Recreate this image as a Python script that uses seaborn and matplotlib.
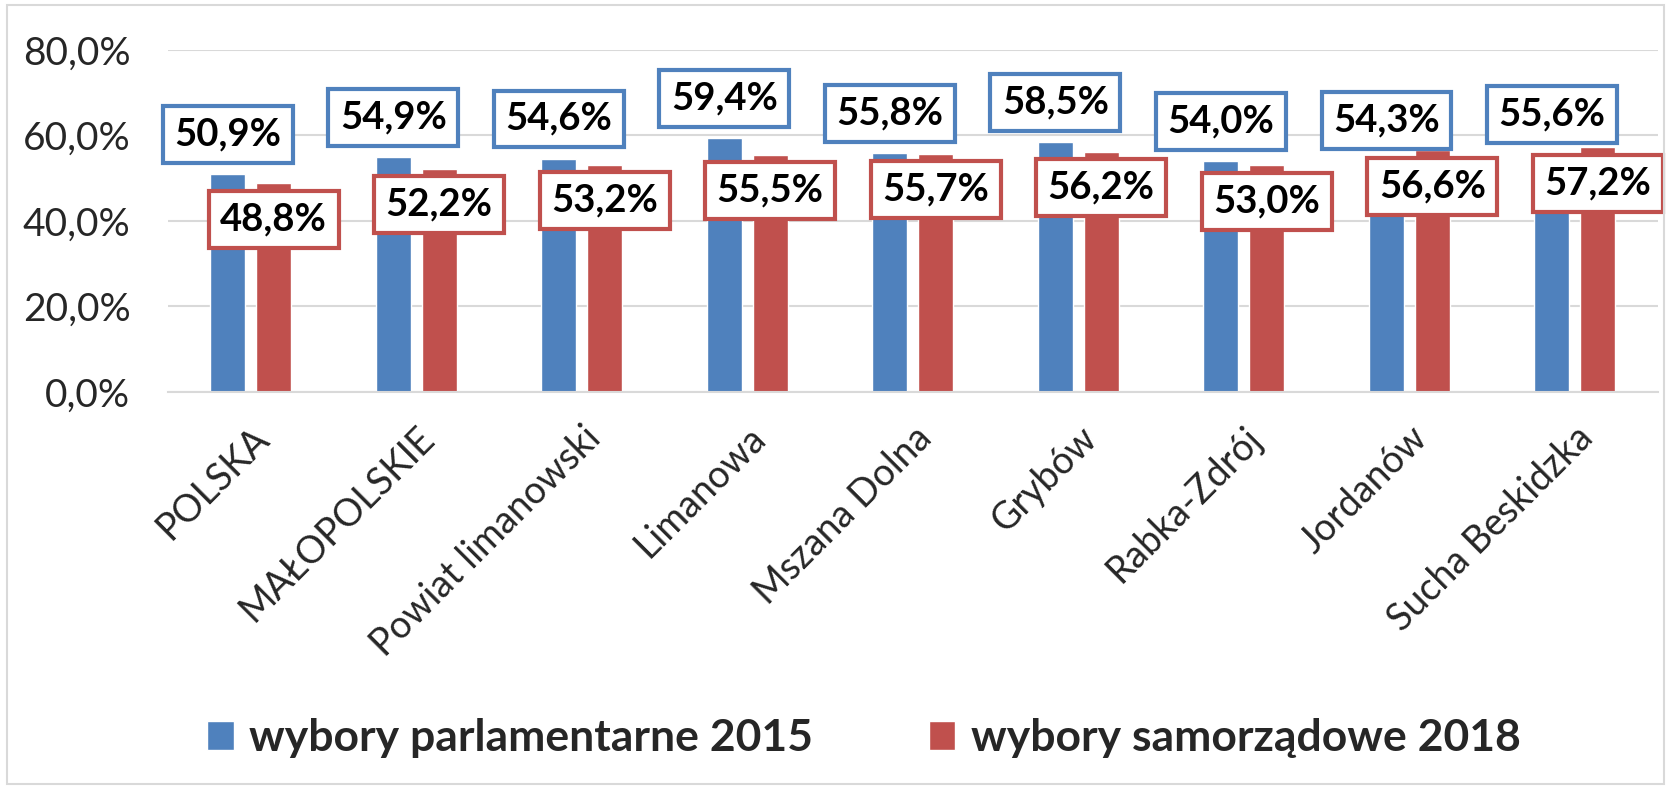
import matplotlib
matplotlib.use("Agg")
import matplotlib.pyplot as plt
import seaborn as sns
import pandas as pd
from matplotlib.patches import Rectangle

categories = ["POLSKA", "MAŁOPOLSKIE", "Powiat limanowski", "Limanowa", "Mszana Dolna",
              "Grybów", "Rabka-Zdrój", "Jordanów", "Sucha Beskidzka"]
series_names = ["wybory parlamentarne 2015", "wybory samorządowe 2018"]
parl_2015 = [50.9, 54.9, 54.6, 59.4, 55.8, 58.5, 54.0, 54.3, 55.6]
samo_2018 = [48.8, 52.2, 53.2, 55.5, 55.7, 56.2, 53.0, 56.6, 57.2]
y_ticks = [0, 20, 40, 60, 80]

colors = ["#4F81BD", "#C0504D"]

df = pd.DataFrame({
    "kategoria": categories * 2,
    "seria": [series_names[0]] * len(categories) + [series_names[1]] * len(categories),
    "wartosc": parl_2015 + samo_2018,
})

sns.set_theme(style="white")
plt.rcParams["font.family"] = ["Lato", "DejaVu Sans"]

fig = plt.figure(figsize=(16.71, 7.87), dpi=100)
fig.patch.set_facecolor("white")
fig.add_artist(Rectangle((0.004, 0.004), 0.992, 0.99, transform=fig.transFigure,
                         fill=False, edgecolor="#D9D9D9", linewidth=1.5))
ax = fig.add_axes([0.1005, 0.502, 0.8915, 0.4345])

sns.barplot(data=df, x="kategoria", y="wartosc", hue="seria", palette=colors,
            width=0.555, gap=0.24, ax=ax, legend=True, saturation=1)

ax.set_ylim(0, 80)
ax.set_yticks(y_ticks)
ax.set_yticklabels([f"{v:.1f}".replace(".", ",") + "%" for v in y_ticks], fontsize=28)
ax.yaxis.grid(True, color="#D9D9D9", linewidth=1.5)
ax.set_axisbelow(True)
for s in ax.spines.values():
    s.set_visible(False)
ax.spines["bottom"].set_visible(True)
ax.spines["bottom"].set_color("#D9D9D9")
ax.spines["bottom"].set_linewidth(1.5)
ax.tick_params(axis="both", length=0)
ax.tick_params(axis="y", pad=27)
ax.set_xlabel("")
ax.set_ylabel("")
ax.set_xticks(range(len(categories)))
ax.set_xticklabels(categories, rotation=45, ha="right", rotation_mode="anchor", fontsize=27)
ax.tick_params(axis="x", pad=20)

offsets = [28.5, -26]
for ci, (cont, col) in enumerate(zip(ax.containers, colors)):
    for bar in cont:
        h = bar.get_height()
        xc = bar.get_x() + bar.get_width() / 2
        ax.annotate(f"{h:.1f}".replace(".", ",") + "%", xy=(xc, h),
                    xytext=(0, offsets[ci]), textcoords="offset points",
                    ha="center", va="center", fontsize=27.5, fontweight="bold",
                    color="black",
                    bbox=dict(boxstyle="square,pad=0.3", facecolor="white",
                              edgecolor=col, linewidth=3))

leg = ax.legend(loc="center", ncol=2, frameon=False,
                handlelength=0.6, handleheight=0.65,
                columnspacing=2.6, handletextpad=0.35,
                prop={"weight": "bold", "size": 32})
leg.set_bbox_to_anchor((0.517, 0.062), transform=fig.transFigure)

fig.savefig("out.png", dpi=100)
